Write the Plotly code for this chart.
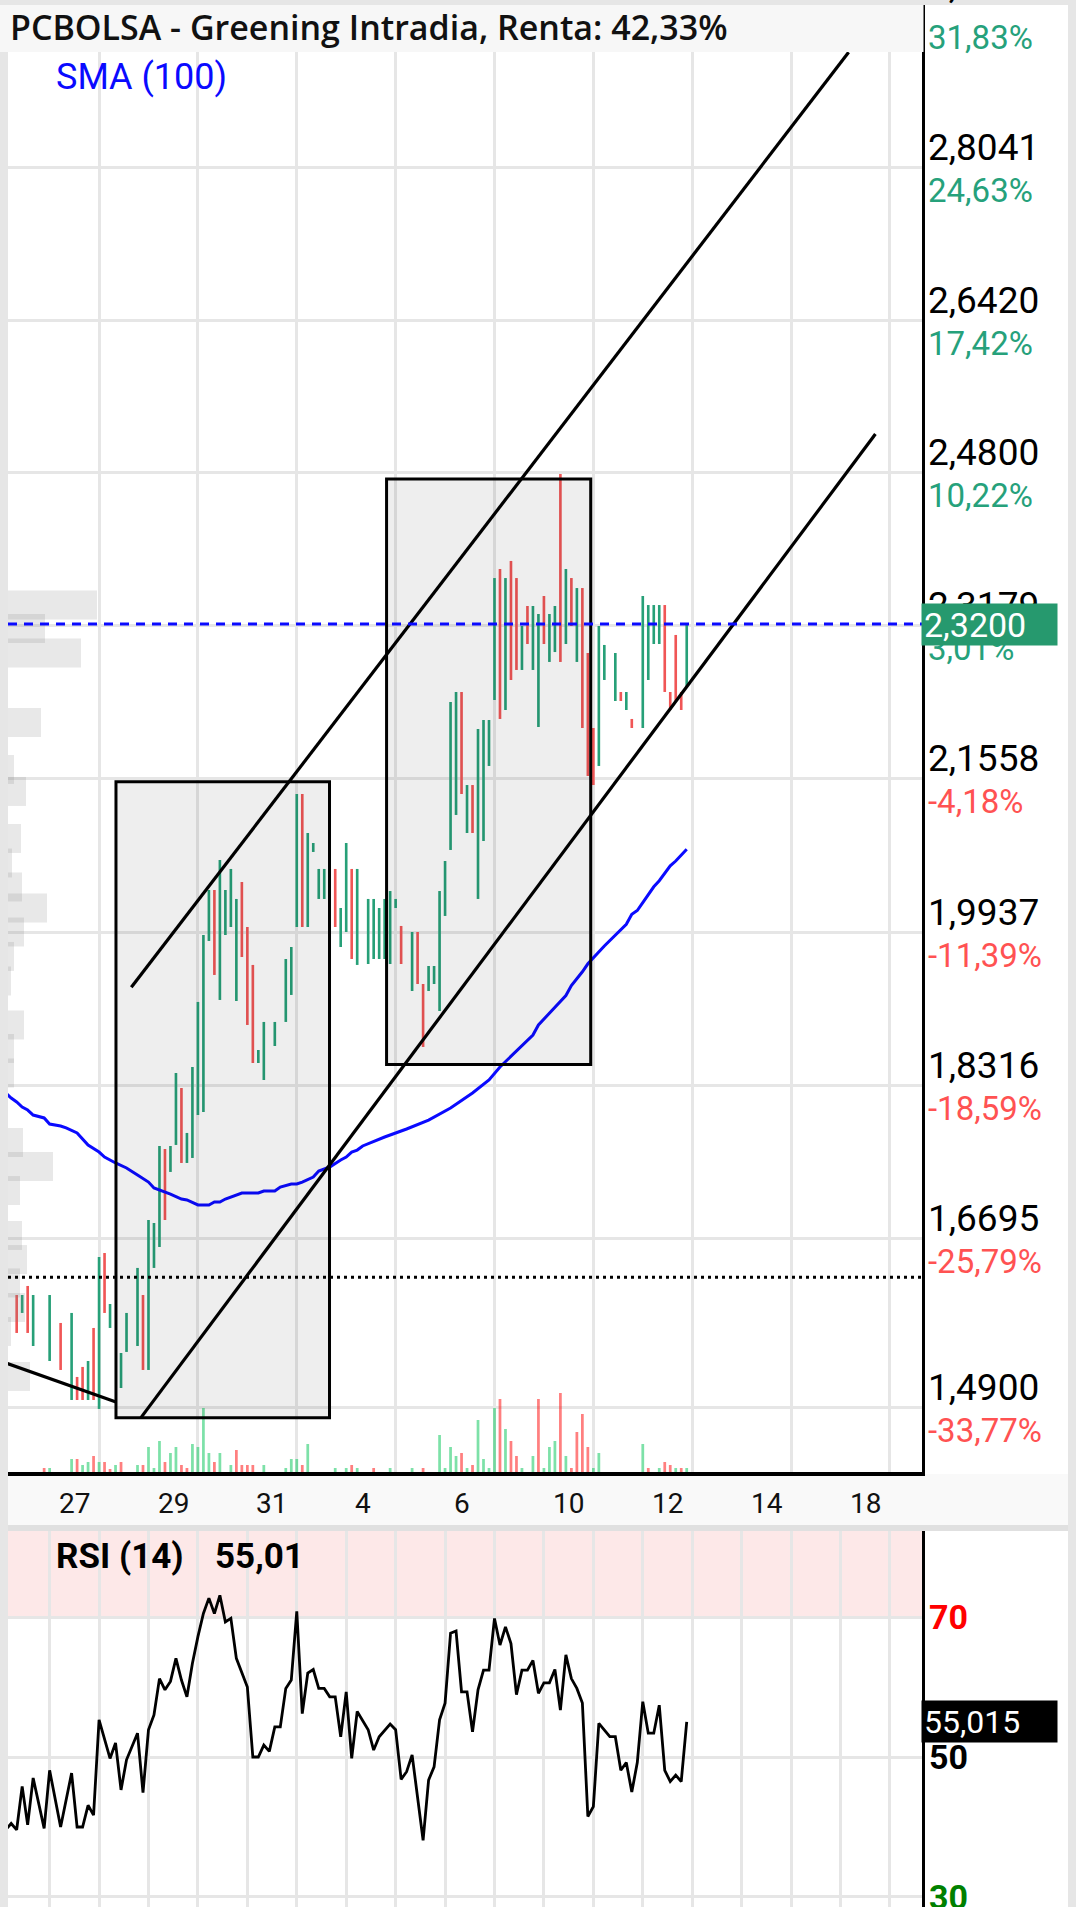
import plotly.graph_objects as go

W, H = 1076, 1907

# ---------------- DATA ----------------
# Hourly bars (bar index, 9 bars per trading day); direction u = up (green), d = down (red)
bar_idx = [-6, -5, -4, -3, 0, 2, 4, 5, 6, 7, 8, 9, 10, 11, 13, 14, 16, 17, 18, 19,
           20, 21, 22, 23, 24, 25, 26, 27, 28, 29, 30, 31, 32, 33, 34, 35, 36, 37, 38, 39,
           41, 43, 44, 45, 46, 47, 48, 49, 50, 52, 53, 54, 55, 56, 58, 59, 60, 61, 62, 63,
           64, 66, 67, 68, 69, 70, 71, 72, 73, 74, 75, 76, 77, 78, 79, 80, 81, 82, 83, 84,
           85, 86, 87, 88, 89, 90, 91, 92, 93, 94, 95, 96, 97, 98, 99, 100, 101, 103, 104, 105,
           106, 108, 109, 110, 111, 112, 113, 114, 115, 116]
bar_dir = ["d", "u", "d", "u", "u", "d", "u", "d", "d", "u", "d", "u", "d", "u", "u", "u", "u", "d", "u", "u",
           "u", "d", "u", "u", "d", "u", "u", "u", "u", "u", "d", "u", "u", "u", "u", "d", "d", "d", "u", "u",
           "u", "u", "u", "u", "d", "u", "u", "u", "u", "d", "u", "u", "d", "u", "u", "u", "u", "u", "u", "u",
           "d", "u", "d", "d", "u", "u", "u", "u", "u", "u", "d", "u", "d", "u", "u", "u", "u", "d", "u", "d",
           "d", "u", "d", "u", "u", "d", "u", "u", "d", "u", "d", "u", "d", "d", "d", "u", "u", "u", "d", "u",
           "d", "u", "u", "u", "u", "d", "d", "d", "d", "u"]
bar_high = [1.6091, 1.6091, 1.6187, 1.6091, 1.6091, 1.5795, 1.5901, 1.5223, 1.5329, 1.5392,
            1.5742, 1.6494, 1.6536, 1.5996, 1.5477, 1.5901, 1.6378, 1.6091, 1.6886, 1.6854,
            1.7670, 1.7638, 1.7670, 1.8443, 1.8284, 1.7808, 1.8507, 1.9196, 1.9905, 2.0382,
            2.0382, 2.0700, 2.0382, 2.0605, 2.0287, 2.0467, 1.9990, 1.9588, 1.8687, 1.8984,
            1.8984, 1.9651, 1.9778, 2.1399, 2.1399, 2.0986, 2.0880, 2.0605, 2.0605, 2.0605,
            2.0191, 2.0880, 2.0605, 2.0605, 2.0287, 2.0287, 2.0191, 2.0287, 2.0371, 2.0287,
            2.0001, 1.9937, 1.9937, 1.9386, 1.9577, 1.9577, 2.0371, 2.0689, 2.2374, 2.2480,
            2.2480, 2.1494, 2.1494, 2.2088, 2.2183, 2.2183, 2.3687, 2.3783, 2.3687, 2.3868,
            2.3687, 2.3179, 2.3391, 2.3391, 2.3306, 2.3497, 2.3306, 2.3391, 2.4789, 2.3783,
            2.3687, 2.3581, 2.3581, 2.2893, 2.2098, 2.3179, 2.2978, 2.2893, 2.2480, 2.2480,
            2.2194, 2.3497, 2.3401, 2.3401, 2.3401, 2.3401, 2.2480, 2.3084, 2.2480, 2.3200]
bar_low = [1.5689, 1.5901, 1.5689, 1.5551, 1.5392, 1.5297, 1.4979, 1.4979, 1.4979, 1.4979,
           1.4979, 1.4884, 1.5901, 1.5742, 1.5106, 1.5488, 1.5551, 1.5297, 1.5297, 1.6378,
           1.6600, 1.6886, 1.7395, 1.7681, 1.7490, 1.7490, 1.7543, 1.7998, 1.8030, 1.9842,
           1.9482, 1.9217, 1.9905, 1.9990, 1.9206, 1.9672, 1.8952, 1.8549, 1.8549, 1.8369,
           1.8729, 1.8984, 1.9270, 1.9990, 1.9990, 1.9990, 2.0785, 2.0287, 2.0287, 1.9990,
           1.9778, 1.9937, 1.9651, 1.9588, 1.9598, 1.9651, 1.9651, 1.9651, 1.9598, 2.0191,
           1.9598, 1.9312, 1.9386, 1.8719, 1.9312, 1.9386, 1.9100, 2.0107, 2.0806, 2.1177,
           2.1399, 2.0986, 2.0986, 2.0287, 2.0901, 2.1696, 2.2395, 2.2194, 2.2289, 2.2607,
           2.2713, 2.2713, 2.2988, 2.2713, 2.2109, 2.2988, 2.2798, 2.2903, 2.2798, 2.2988,
           2.3179, 2.2798, 2.2098, 2.1590, 2.1494, 2.1696, 2.2607, 2.2384, 2.2384, 2.2289,
           2.2098, 2.2098, 2.2607, 2.2988, 2.2988, 2.2480, 2.2289, 2.2384, 2.2289, 2.2533]

# Volume (relative units) per bar
vol_idx = [-1, 0, 4, 5, 6, 7, 8, 9, 10, 11, 12, 13, 16, 17, 18, 19, 20, 21, 22, 23,
           24, 25, 26, 27, 28, 29, 30, 31, 33, 34, 35, 36, 37, 39, 43, 44, 45, 46, 47, 52,
           54, 55, 56, 59, 62, 66, 68, 71, 72, 73, 74, 75, 76, 77, 78, 79, 80, 81, 82, 83,
           84, 85, 86, 88, 89, 90, 91, 92, 93, 94, 95, 96, 97, 98, 99, 100, 108, 109, 111, 112,
           113, 114, 115, 116]
vol_dir = ["d", "u", "u", "d", "u", "u", "d", "u", "d", "d", "u", "d", "u", "d", "u", "u", "u", "d", "u", "u",
           "d", "d", "u", "u", "u", "u", "d", "u", "u", "d", "d", "d", "d", "u", "u", "u", "u", "d", "u", "u",
           "u", "d", "u", "d", "u", "u", "d", "u", "u", "u", "u", "d", "u", "d", "u", "u", "u", "u", "d", "u",
           "d", "d", "u", "u", "d", "u", "u", "u", "d", "u", "d", "d", "d", "d", "u", "u", "u", "d", "u", "d",
           "d", "u", "d", "u"]
vol_val = [4, 4, 13, 13, 7, 10, 16, 10, 10, 3, 7, 10, 7, 7, 25, 4, 31, 10, 19, 25,
           7, 4, 28, 25, 64, 19, 10, 19, 7, 22, 7, 7, 7, 7, 4, 13, 13, 7, 28, 4,
           4, 7, 4, 4, 4, 4, 4, 37, 4, 25, 16, 19, 4, 7, 52, 13, 4, 64, 73, 43,
           31, 16, 4, 16, 73, 4, 25, 31, 79, 16, 4, 40, 58, 25, 4, 19, 28, 4, 4, 10,
           7, 4, 4, 4]

# Simple moving average (100)
sma_idx = [-8, -7, -6, -5, -4, -3, -1, 0, 2, 3, 5, 7, 9, 10, 12, 14, 16, 18, 19, 22,
           24, 25, 27, 29, 30, 31, 32, 33, 35, 38, 39, 41, 42, 44, 45, 46, 48, 49, 51, 53,
           54, 55, 56, 57, 61, 65, 69, 73, 77, 80, 82, 88, 89, 94, 95, 97, 98, 101, 105, 106,
           107, 108, 109, 110, 111, 112, 113, 114, 116]
sma_val = [1.8231, 1.8178, 1.8136, 1.8083, 1.8051, 1.7998, 1.7967, 1.7903, 1.7882, 1.7861,
           1.7808, 1.7680, 1.7606, 1.7553, 1.7490, 1.7437, 1.7363, 1.7288, 1.7225, 1.7161,
           1.7108, 1.7098, 1.7045, 1.7045, 1.7077, 1.7077, 1.7108, 1.7130, 1.7172, 1.7172,
           1.7193, 1.7193, 1.7235, 1.7267, 1.7267, 1.7288, 1.7341, 1.7405, 1.7447, 1.7521,
           1.7553, 1.7606, 1.7627, 1.7670, 1.7765, 1.7850, 1.7945, 1.8072, 1.8231, 1.8369,
           1.8507, 1.8846, 1.8952, 1.9264, 1.9369, 1.9516, 1.9600, 1.9789, 2.0019, 2.0124,
           2.0165, 2.0249, 2.0332, 2.0416, 2.0480, 2.0563, 2.0638, 2.0689, 2.0814]

# RSI (14)
rsi_idx = [-8, -7, -6, -5, -4, -3, -1, 0, 2, 4, 5, 6, 7, 8, 9, 11, 12, 13, 14, 16,
           17, 18, 19, 20, 21, 22, 23, 24, 25, 26, 27, 28, 29, 30, 31, 32, 33, 34, 36, 37,
           38, 39, 40, 41, 42, 43, 44, 45, 46, 47, 48, 49, 50, 51, 52, 53, 54, 55, 56, 58,
           59, 60, 62, 63, 64, 65, 66, 68, 69, 70, 71, 72, 73, 74, 75, 76, 77, 78, 79, 80,
           81, 82, 83, 84, 85, 86, 87, 88, 89, 90, 91, 92, 93, 94, 95, 96, 97, 98, 99, 100,
           102, 103, 104, 105, 106, 107, 108, 109, 110, 111, 112, 113, 114, 115, 116]
rsi_val = [39.6, 40.5, 39.6, 45.8, 40.3, 47.0, 39.8, 48.1, 40.0, 47.7, 40.0, 40.0, 43.1, 41.7, 55.3, 49.8, 52.0, 45.3, 49.6, 53.4,
           44.9, 53.9, 56.0, 61.2, 59.6, 60.8, 64.1, 61.0, 58.6, 63.4, 67.2, 70.5, 72.7, 70.5, 73.1, 69.3, 69.8, 64.1, 60.0, 50.0,
           50.0, 51.7, 50.8, 54.3, 54.3, 59.8, 61.0, 70.8, 56.2, 62.0, 62.5, 59.8, 59.8, 58.6, 58.6, 52.9, 59.3, 49.8, 56.5, 53.9,
           51.0, 52.9, 54.7, 53.9, 46.8, 47.9, 50.3, 38.1, 46.7, 48.6, 55.3, 57.7, 67.7, 68.0, 59.3, 59.3, 53.6, 59.6, 62.4, 62.4,
           69.8, 66.0, 68.6, 66.2, 58.9, 62.4, 62.4, 63.8, 59.1, 60.6, 60.6, 62.5, 56.7, 64.6, 61.2, 59.8, 57.7, 41.5, 42.9, 54.8,
           52.9, 52.9, 48.1, 49.2, 45.0, 49.2, 57.9, 53.4, 53.4, 57.4, 48.1, 46.5, 47.4, 46.5, 55.015]

# Volume-at-price profile (price level, relative volume)
prof_price = [2.3401, 2.3152, 2.2893, 2.2157, 2.1659, 2.1426, 2.0928, 2.0668, 2.0414, 2.0191,
              1.9937, 1.9678, 1.9418, 1.8952, 1.8703, 1.8443, 1.7707, 1.7453, 1.7198, 1.6722,
              1.6467, 1.6219, 1.5959, 1.5705, 1.5228]
prof_vol = [89, 37, 73, 33, 6, 18, 13, 4, 14, 39,
            16, 6, 3, 16, 6, 6, 15, 45, 12, 14,
            19, 12, 17, 3, 22]

# Price axis ticks and % change vs reference
price_ticks = [2.9662, 2.8041, 2.6420, 2.4800, 2.3179, 2.1558, 1.9937, 1.8316, 1.6695, 1.4900]
price_text = ["2,9662", "2,8041", "2,6420", "2,4800", "2,3179", "2,1558", "1,9937", "1,8316", "1,6695", "1,4900"]
pct_text = ["31,83%", "24,63%", "17,42%", "10,22%", "3,01%", "-4,18%", "-11,39%", "-18,59%", "-25,79%", "-33,77%"]
pct_positive = [True, True, True, True, True, False, False, False, False, False]

# Day labels (first bar index of each labelled day)
day_labels = ["27", "29", "31", "4", "6", "10", "12", "14", "18"]
day_start = [0, 18, 36, 54, 72, 90, 108, 126, 144]

last_price = 2.32
last_rsi = 55.015
support_level = 1.6279

# Drawn objects (bar index, price)
box1 = (12.08, 1.4792, 50.96, 2.1528)
box2 = (61.35, 1.8533, 98.52, 2.4736)
chan_upper = (14.87, 1.9351, 145.48, 2.9257)
chan_lower = (16.63, 1.4792, 150.36, 2.5213)
down_line = (-7.82, 1.5368, 12.08, 1.4958)

# ---------------- STYLE / LAYOUT ----------------
GREEN = "#27a078"
RED = "#f05656"
GRID = "#e6e6e6"
BORDER = "#e6e6e6"
X_RANGE = [-7.58, 158.84]
Y_RANGE = [1.4216, 2.9758]
RSI_RANGE = [28.57, 82.29]

def fx(px):
    return px / W

def fy(py):
    return 1 - py / H

fig = go.Figure()

fig.add_trace(go.Bar(
    orientation="h", x=prof_vol, y=prof_price, width=0.0307,
    xaxis="x3", yaxis="y",
    marker=dict(color="rgba(128,128,128,0.18)", line=dict(width=0)),
    hoverinfo="skip", showlegend=False))

fig.add_trace(go.Bar(
    x=vol_idx, y=vol_val, xaxis="x", yaxis="y3", width=0.5,
    marker=dict(color=["rgba(38,205,110,0.6)" if d == "u" else "rgba(255,0,0,0.5)" for d in vol_dir],
                line=dict(width=0)),
    hoverinfo="skip", showlegend=False))

fig.add_trace(go.Bar(
    x=bar_idx, y=[h - l for h, l in zip(bar_high, bar_low)], base=bar_low,
    xaxis="x", yaxis="y", width=0.48,
    marker=dict(color=[GREEN if d == "u" else RED for d in bar_dir], line=dict(width=0)),
    hoverinfo="skip", showlegend=False))

fig.add_trace(go.Scatter(
    x=sma_idx, y=sma_val, mode="lines", xaxis="x", yaxis="y",
    line=dict(color="#0a0aff", width=3), hoverinfo="skip", showlegend=False))

fig.add_trace(go.Scatter(
    x=rsi_idx, y=rsi_val, mode="lines", xaxis="x2", yaxis="y2",
    line=dict(color="black", width=2.8), hoverinfo="skip", showlegend=False))

shapes = [
    dict(type="rect", xref="paper", yref="paper", x0=fx(8), x1=fx(1068), y0=0, y1=fy(5),
         fillcolor="white", line=dict(width=0), layer="below"),
    dict(type="rect", xref="paper", yref="paper", x0=fx(8), x1=fx(1068), y0=fy(1525), y1=fy(1474),
         fillcolor="#f9f9f9", line=dict(width=0), layer="below"),
    dict(type="rect", xref="paper", yref="paper", x0=fx(8), x1=fx(1068), y0=fy(1531), y1=fy(1525),
         fillcolor="#e0e0e0", line=dict(width=0), layer="below"),
    dict(type="rect", xref="x2 domain", yref="y2", x0=0, x1=1, y0=70, y1=RSI_RANGE[1],
         fillcolor="#fde8e8", line=dict(width=0), layer="below"),
]
for b in (box1, box2):
    shapes.append(dict(type="rect", xref="x", yref="y", x0=b[0], y0=b[1], x1=b[2], y1=b[3],
                       fillcolor="rgba(0,0,0,0.065)", line=dict(color="black", width=3), layer="above"))
for ln in (chan_upper, chan_lower, down_line):
    shapes.append(dict(type="line", xref="x", yref="y", x0=ln[0], y0=ln[1], x1=ln[2], y1=ln[3],
                       line=dict(color="black", width=3.2), layer="above"))
shapes.append(dict(type="line", xref="x domain", yref="y", x0=0, x1=1, y0=last_price, y1=last_price,
                   line=dict(color="#0a0aff", width=3, dash="9px,7px"), layer="above"))
shapes.append(dict(type="line", xref="x domain", yref="y", x0=0, x1=1, y0=support_level, y1=support_level,
                   line=dict(color="black", width=3, dash="3px,4px"), layer="above"))
shapes.append(dict(type="rect", xref="paper", yref="paper", x0=0, x1=fx(923.5), y0=fy(52), y1=fy(5),
                   fillcolor="#f7f7f7", line=dict(width=0), layer="above"))
shapes.append(dict(type="rect", xref="paper", yref="paper", x0=0, x1=1, y0=fy(5), y1=1,
                   fillcolor=BORDER, line=dict(width=0), layer="above"))

ann = []
ann.append(dict(text="PCBOLSA - Greening Intradia, Renta: 42,33%", xref="paper", yref="paper",
                x=fx(8), y=fy(27), xanchor="left", yanchor="middle", showarrow=False,
                font=dict(family="Open Sans", size=34, color="#111", weight=600)))
ann.append(dict(text="SMA (100)", xref="paper", yref="paper", x=fx(54), y=fy(77),
                xanchor="left", yanchor="middle", showarrow=False,
                font=dict(family="Roboto", size=36, color="#0a0aff")))
for i, (p, t, pc, pos) in enumerate(zip(price_ticks, price_text, pct_text, pct_positive)):
    ann.append(dict(text=t, xref="paper", yref="y", x=fx(926), y=p, yshift=(29 if i == 0 else 20),
                    xanchor="left", yanchor="middle", showarrow=False,
                    font=dict(family="Roboto", size=37, color="black")))
    ann.append(dict(text=pc, xref="paper", yref="y", x=fx(926), y=p, yshift=-23,
                    xanchor="left", yanchor="middle", showarrow=False,
                    font=dict(family="Roboto", size=33, color="#26a17b" if pos else "#ff5252")))
ann.append(dict(text="2,3200", xref="paper", yref="y", x=fx(921), y=last_price,
                xanchor="left", yanchor="middle", showarrow=False, align="left",
                width=131, height=37, bgcolor="#26996e", borderpad=2,
                font=dict(family="Roboto", size=34, color="white")))
for lab, s in zip(day_labels, day_start):
    ann.append(dict(text=lab, xref="x", yref="paper", x=s + 1.3, y=fy(1503),
                    xanchor="left", yanchor="middle", showarrow=False,
                    font=dict(family="Roboto", size=28, color="#111")))
ann.append(dict(text="RSI (14)", xref="paper", yref="paper", x=fx(54), y=fy(1556),
                xanchor="left", yanchor="middle", showarrow=False,
                font=dict(family="Roboto", size=35, color="black", weight="bold")))
ann.append(dict(text="55,01", xref="paper", yref="paper", x=fx(213), y=fy(1556),
                xanchor="left", yanchor="middle", showarrow=False,
                font=dict(family="Roboto", size=35, color="black", weight="bold")))
for v, c in zip([70, 50, 30], ["#ff0000", "black", "#008000"]):
    ann.append(dict(text=str(v), xref="paper", yref="y2", x=fx(927), y=v,
                    xanchor="left", yanchor="middle", showarrow=False,
                    font=dict(family="Roboto", size=34, color=c, weight="bold")))
ann.append(dict(text="55,015", xref="paper", yref="y2", x=fx(921), y=last_rsi,
                xanchor="left", yanchor="middle", showarrow=False, align="left",
                width=131, height=37, bgcolor="black", borderpad=2,
                font=dict(family="Roboto", size=32, color="white")))

fig.update_layout(
    width=W, height=H, autosize=False,
    margin=dict(l=0, r=0, t=0, b=0, pad=0),
    paper_bgcolor=BORDER, plot_bgcolor="white",
    barmode="overlay", showlegend=False, hovermode=False,
    xaxis=dict(domain=[fx(8), fx(922)], range=X_RANGE, anchor="y",
               tickmode="linear", tick0=9, dtick=18, showgrid=True, gridcolor=GRID, gridwidth=3,
               showticklabels=False, ticks="", zeroline=False,
               showline=True, linecolor="black", linewidth=4),
    yaxis=dict(domain=[fy(1472), fy(5)], range=Y_RANGE, anchor="x", side="right",
               tickmode="array", tickvals=price_ticks, showgrid=True, gridcolor=GRID, gridwidth=3,
               showticklabels=False, ticks="", zeroline=False,
               showline=True, linecolor="black", linewidth=3),
    xaxis2=dict(domain=[fx(8), fx(922)], range=X_RANGE, anchor="y2",
                tickmode="linear", tick0=0, dtick=9, showgrid=True, gridcolor=GRID, gridwidth=3,
                showticklabels=False, ticks="", zeroline=False, showline=False),
    yaxis2=dict(domain=[0, fy(1531)], range=RSI_RANGE, anchor="x2", side="right",
                tickmode="array", tickvals=[30, 50, 70], showgrid=True, gridcolor=GRID, gridwidth=3,
                showticklabels=False, ticks="", zeroline=False,
                showline=True, linecolor="black", linewidth=3),
    xaxis3=dict(overlaying="x", range=[0, 914], visible=False, anchor="y"),
    yaxis3=dict(overlaying="y", range=[0, 1467], visible=False, anchor="x"),
    shapes=shapes, annotations=ann,
)

fig.write_html("out.html", config={"displayModeBar": False},
               post_script="document.body.style.margin='0';document.body.style.overflow='hidden';")
